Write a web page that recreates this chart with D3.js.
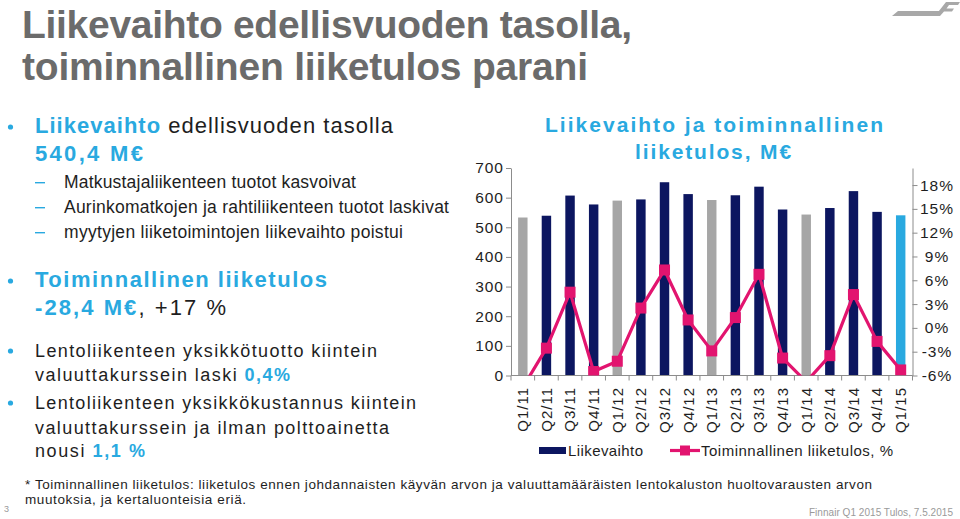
<!DOCTYPE html>
<html>
<head>
<meta charset="utf-8">
<script src="https://cdn.jsdelivr.net/npm/d3@7"></script>
<style>
  body { margin: 0; background: #fff; }
  svg { display: block; }
  text { font-family: "Liberation Sans", Arial, sans-serif; }
</style>
</head>
<body>
<svg id="chart" width="960" height="519"></svg>
<script>
// ---------------------------------------------------------------- data
const quarters = ["Q1/11", "Q2/11", "Q3/11", "Q4/11", "Q1/12", "Q2/12", "Q3/12", "Q4/12",
  "Q1/13", "Q2/13", "Q3/13", "Q4/13", "Q1/14", "Q2/14", "Q3/14", "Q4/14", "Q1/15"];
// revenue, M EUR
const revenue = [533, 539, 607, 577, 590, 594, 652, 612, 592, 608, 637, 560, 543, 565, 622, 552, 540.4];
// operating result, % of revenue
const ebitPct = [-7.5, -2.55, 4.5, -5.5, -4.2, 2.5, 7.3, 1.0, -2.9, 1.3, 6.75, -3.8, -6.8, -3.5, 4.2, -1.7, -5.3];
const leftTicks = [0, 100, 200, 300, 400, 500, 600, 700];
const rightTicks = [-6, -3, 0, 3, 6, 9, 12, 15, 18];

// ---------------------------------------------------------------- colours
const blue = "#29a9e0",
  navy = "#0c1660",
  grey = "#a6a6a6",
  magenta = "#e2146f",
  ink = "#1e1e1e",
  titleGrey = "#6b6b6b",
  axisGrey = "#8c8c8c";

const svg = d3.select("#chart");

// ---------------------------------------------------------------- text helper
// draws a line of (possibly mixed) text and stretches it to the wanted width
function drawText(x, y, segs, o) {
  const g = svg.append("g").attr("transform", `translate(${x},${y})`);
  const t = g.append("text")
    .attr("font-size", o.size)
    .attr("text-anchor", o.anchor || "start")
    .attr("fill", o.fill || ink);
  if (o.family) t.style("font-family", o.family);
  if (o.bold) t.attr("font-weight", "bold");
  segs.forEach(s => {
    t.append("tspan")
      .attr("fill", s.c || null)
      .attr("font-weight", s.b ? "bold" : null)
      .text(s.t);
  });
  if (o.width) {
    const w = t.node().getComputedTextLength();
    const n = segs.map(s => s.t).join("").length;
    const ls = (o.width - w) / Math.max(1, n - 1);
    if (ls < -0.6) t.attr("transform", `scale(${o.width / w},1)`);
    else t.attr("letter-spacing", ls);
  }
  return t;
}

// ---------------------------------------------------------------- slide title
const narrow = '"Liberation Sans Narrow", "Arial Narrow", "Liberation Sans", Arial, sans-serif';
drawText(22, 38, [{ t: "Liikevaihto edellisvuoden tasolla," }],
  { size: 39, bold: true, fill: titleGrey, family: narrow, width: 610 });
drawText(22, 80, [{ t: "toiminnallinen liiketulos parani" }],
  { size: 39, bold: true, fill: titleGrey, family: narrow, width: 566 });

// logo
svg.append("path")
  .attr("d", "M892,16 L898,11 L939,11 L935,16 Z M935,16 L946,2 L960,2 L958,5 L949,5 L946.5,8.5 L954,8.5 L952,11.5 L944,11.5 L940,16 Z")
  .attr("fill", "#a8a8a8");

// ---------------------------------------------------------------- left text
const bullets = [{ x: 9, y: 133 }, { x: 9, y: 287 }, { x: 9, y: 357 }, { x: 9, y: 409 }];
bullets.forEach(b => {
  svg.append("circle").attr("cx", b.x + 1.5).attr("cy", b.y - 6).attr("r", 2.6).attr("fill", blue);
});
[188, 213, 238].forEach(y => {
  svg.append("rect").attr("x", 35).attr("y", y - 6).attr("width", 10).attr("height", 1.4).attr("fill", blue);
});

const lines = [
  { x: 35, y: 133, size: 22, w: 358, segs: [{ t: "Liikevaihto", c: blue, b: true }, { t: " edellisvuoden tasolla" }] },
  { x: 35, y: 161, size: 22, w: 108, segs: [{ t: "540,4 M€", c: blue, b: true }] },
  { x: 64, y: 188, size: 17.5, w: 292, segs: [{ t: "Matkustajaliikenteen tuotot kasvoivat" }] },
  { x: 64, y: 213, size: 17.5, w: 385, segs: [{ t: "Aurinkomatkojen ja rahtiliikenteen tuotot laskivat" }] },
  { x: 64, y: 238, size: 17.5, w: 339, segs: [{ t: "myytyjen liiketoimintojen liikevaihto poistui" }] },
  { x: 35, y: 287, size: 22, w: 292, segs: [{ t: "Toiminnallinen liiketulos", c: blue, b: true }] },
  { x: 35, y: 315, size: 22, w: 191, segs: [{ t: "-28,4 M€", c: blue, b: true }, { t: ", +17 %" }] },
  { x: 35, y: 357, size: 18, w: 342, segs: [{ t: "Lentoliikenteen yksikkötuotto kiintein" }] },
  { x: 35, y: 381, size: 18, w: 255, segs: [{ t: "valuuttakurssein laski " }, { t: "0,4%", c: blue, b: true }] },
  { x: 35, y: 409, size: 18, w: 381, segs: [{ t: "Lentoliikenteen yksikkökustannus kiintein" }] },
  { x: 35, y: 434, size: 18, w: 354, segs: [{ t: "valuuttakurssein ja ilman polttoainetta" }] },
  { x: 35, y: 457, size: 18, w: 110, segs: [{ t: "nousi " }, { t: "1,1 %", c: blue, b: true }] }
];
lines.forEach(l => drawText(l.x, l.y, l.segs, { size: l.size, width: l.w }));

// ---------------------------------------------------------------- chart
const plot = { left: 511, right: 912.5, top: 168, bottom: 375.5 };

const x = d3.scaleBand()
  .domain(quarters)
  .range([plot.left, plot.right])
  .paddingInner(0.6)
  .paddingOuter(0.3);
const yL = d3.scaleLinear().domain([0, 700]).range([plot.bottom, plot.top]);
const yR = d3.scaleLinear().domain([-6, 20.15]).range([plot.bottom, plot.top]);
const cx = q => x(q) + x.bandwidth() / 2;

drawText(715, 132, [{ t: "Liikevaihto ja toiminnallinen" }], { size: 21, bold: true, fill: blue, anchor: "middle", width: 338 });
drawText(714, 159, [{ t: "liiketulos, M€" }], { size: 21, bold: true, fill: blue, anchor: "middle", width: 156 });

// bars
const barColor = (q, i) => i === quarters.length - 1 ? blue : q.startsWith("Q1") ? grey : navy;
svg.append("g")
  .selectAll("rect")
  .data(quarters)
  .join("rect")
  .attr("x", q => x(q))
  .attr("width", x.bandwidth())
  .attr("y", (q, i) => yL(revenue[i]))
  .attr("height", (q, i) => yL(0) - yL(revenue[i]))
  .attr("fill", barColor);

// axes
const axL = svg.append("g")
  .attr("transform", `translate(${plot.left},0)`)
  .call(d3.axisLeft(yL).tickValues(leftTicks).tickSize(5).tickSizeOuter(0).tickPadding(2));
const axR = svg.append("g")
  .attr("transform", `translate(${plot.right},0)`)
  .call(d3.axisRight(yR).tickValues(rightTicks).tickFormat(d => d + "%").tickSize(5).tickSizeOuter(0));
axR.selectAll(".tick text").attr("x", 24.5).attr("text-anchor", "middle");

[axL, axR].forEach(a => {
  a.select(".domain").attr("stroke", axisGrey);
  a.selectAll(".tick line").attr("stroke", axisGrey);
  a.selectAll(".tick text")
    .attr("font-size", 15.5)
    .attr("fill", ink)
    .attr("letter-spacing", 1)
    .style("font-family", '"Liberation Sans", Arial, sans-serif');
});

// x axis
const xAxis = svg.append("g");
xAxis.append("line")
  .attr("x1", plot.left).attr("x2", plot.right)
  .attr("y1", plot.bottom).attr("y2", plot.bottom)
  .attr("stroke", axisGrey);
xAxis.selectAll(".xt")
  .data(d3.range(quarters.length + 1))
  .join("line")
  .attr("class", "xt")
  .attr("x1", i => plot.left + i * x.step())
  .attr("x2", i => plot.left + i * x.step())
  .attr("y1", plot.bottom)
  .attr("y2", plot.bottom + 5)
  .attr("stroke", axisGrey);
xAxis.selectAll("text")
  .data(quarters)
  .join("text")
  .attr("transform", q => `translate(${cx(q)},387) rotate(-90)`)
  .attr("dy", "0.36em")
  .attr("text-anchor", "end")
  .attr("font-size", 15)
  .attr("letter-spacing", 1)
  .attr("fill", ink)
  .text(q => q);

// line + markers (clipped to the plot area)
svg.append("clipPath").attr("id", "clip")
  .append("rect")
  .attr("x", plot.left).attr("y", plot.top)
  .attr("width", plot.right - plot.left).attr("height", plot.bottom - plot.top);

const lineG = svg.append("g").attr("clip-path", "url(#clip)");
lineG.append("path")
  .datum(quarters)
  .attr("fill", "none")
  .attr("stroke", magenta)
  .attr("stroke-width", 3.2)
  .attr("stroke-linejoin", "round")
  .attr("d", d3.line().x(q => cx(q)).y((q, i) => yR(ebitPct[i])));
lineG.selectAll(".mk")
  .data(quarters)
  .join("rect")
  .attr("class", "mk")
  .attr("x", q => cx(q) - 5.5)
  .attr("y", (q, i) => yR(ebitPct[i]) - 5.5)
  .attr("width", 11)
  .attr("height", 11)
  .attr("fill", magenta);

// legend
svg.append("rect").attr("x", 539).attr("y", 447).attr("width", 27).attr("height", 7).attr("fill", navy);
drawText(568, 456, [{ t: "Liikevaihto" }], { size: 15, width: 75 });
svg.append("line").attr("x1", 670).attr("x2", 700).attr("y1", 450.5).attr("y2", 450.5)
  .attr("stroke", magenta).attr("stroke-width", 3.2);
svg.append("rect").attr("x", 680).attr("y", 445.5).attr("width", 10).attr("height", 10).attr("fill", magenta);
drawText(701, 456, [{ t: "Toiminnallinen liiketulos, %" }], { size: 15, width: 192 });

// ---------------------------------------------------------------- footnote
drawText(25, 489, [{ t: "* Toiminnallinen liiketulos: liiketulos ennen johdannaisten käyvän arvon ja valuuttamääräisten lentokaluston huoltovarausten arvon" }],
  { size: 13.5, width: 847 });
drawText(25, 504, [{ t: "muutoksia, ja kertaluonteisia eriä." }], { size: 13.5, width: 221 });
drawText(4, 512, [{ t: "3" }], { size: 9, fill: "#9a9a9a" });
drawText(953, 516, [{ t: "Finnair Q1 2015 Tulos, 7.5.2015" }], { size: 10, fill: "#9a9a9a", anchor: "end", width: 144 });
</script>
</body>
</html>
